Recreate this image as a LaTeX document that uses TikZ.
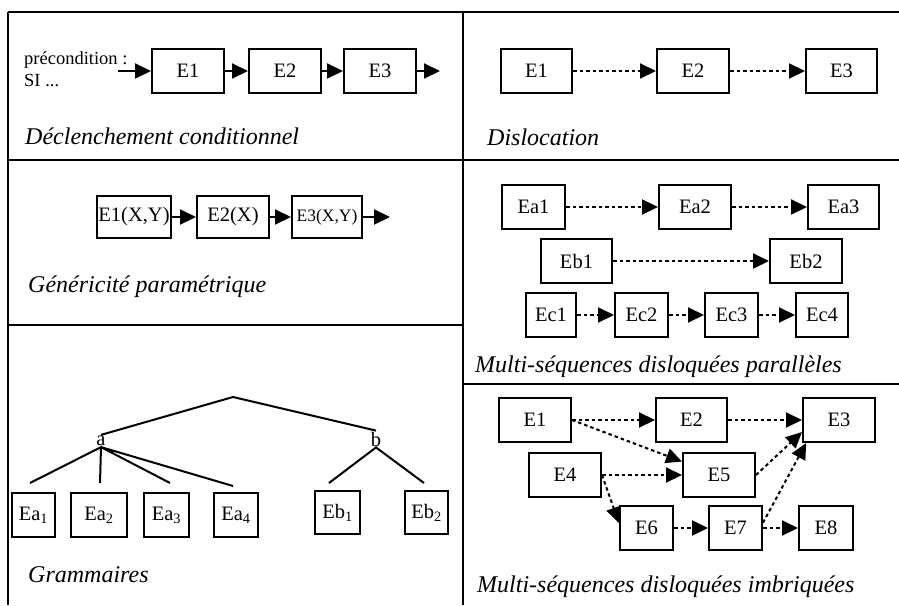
\documentclass[tikz,border=0pt]{standalone}
\usepackage{fontspec}
\setmainfont{Liberation Serif}
\usetikzlibrary{arrows.meta}
\tikzset{
  frame/.style={line width=2pt},
  box/.style={draw, line width=2pt, inner sep=0pt, minimum height=44pt, font=\fontsize{20.5}{22}\selectfont},
  caption/.style={anchor=base west, inner sep=0pt, font=\fontsize{24}{26}\selectfont\itshape},
  solidarr/.style={line width=2pt, -{Triangle[length=16pt,width=15pt]}},
  dotarr/.style={line width=2pt, dash pattern=on 3.5pt off 3pt, -{Triangle[length=16pt,width=15pt]}},
  treeline/.style={line width=2pt},
  letter/.style={inner sep=1pt, font=\fontsize{20.5}{22}\selectfont}
}
\begin{document}
\begin{tikzpicture}[x=1pt,y=-1pt]
\useasboundingbox (0,0) rectangle (899,605);
% frame
\draw[frame] (8,12) -- (899,12);
\draw[frame] (8,12) -- (8,605);
\draw[frame] (463,12) -- (463,605);
\draw[frame] (8,160) -- (899,160);
\draw[frame] (8,325) -- (463,325);
\draw[frame] (463,384) -- (899,384);

% Déclenchement conditionnel
\node[anchor=west, align=left, inner sep=0pt, font=\fontsize{18.5}{22}\selectfont] (pre) at (24,69) {précondition :\\SI ...};
\coordinate (prestart) at (118,71);
\node[box, minimum width=72pt] (a1) at (188,71) {E1};
\node[box, minimum width=72pt] (a2) at (285,71) {E2};
\node[box, minimum width=72pt] (a3) at (380,71) {E3};
\coordinate (aend) at (440,71);
\draw[solidarr] (prestart) -- (a1.west);
\draw[solidarr] (a1) -- (a2);
\draw[solidarr] (a2) -- (a3);
\draw[solidarr] (a3.east) -- (aend);
\node[caption] (capA) at (25,144) {Déclenchement conditionnel};

% Dislocation
\node[box, minimum width=71pt] (b1) at (536.5,71) {E1};
\node[box, minimum width=72pt] (b2) at (693,71) {E2};
\node[box, minimum width=71pt] (b3) at (841.5,71) {E3};
\draw[dotarr] (b1) -- (b2);
\draw[dotarr] (b2) -- (b3);
\node[caption] (capB) at (487,145) {Dislocation};

% Généricité paramétrique
\node[box, minimum width=74pt, minimum height=42pt] (c1) at (134,217) {E1(X,Y)};
\node[box, minimum width=72pt, minimum height=42pt] (c2) at (233,217) {E2(X)};
\node[box, minimum width=70pt, minimum height=42pt, font=\fontsize{17.5}{20}\selectfont] (c3) at (327,217) {E3(X,Y)};
\coordinate (cend) at (390,217);
\draw[solidarr] (c1) -- (c2);
\draw[solidarr] (c2) -- (c3);
\draw[solidarr] (c3.east) -- (cend);
\node[caption] (capC) at (28,292) {Généricité paramétrique};

% Grammaires
\coordinate (apex) at (233,397);
\node[letter] (ga) at (101,441) {a};
\node[letter] (gb) at (376,439) {b};
\coordinate (l1) at (30,483);
\coordinate (l2) at (100,483);
\coordinate (l3) at (170,483);
\coordinate (l4) at (233,486);
\coordinate (l5) at (329,483);
\coordinate (l6) at (424,483);
\draw[treeline] (ga.north) -- (apex) -- (gb.north);
\draw[treeline] (l1) -- (ga.south) -- (l2);
\draw[treeline] (l3) -- (ga.south) -- (l4);
\draw[treeline] (l5) -- (gb.south) -- (l6);
\node[box, minimum width=43pt] (d1) at (33.5,515) {Ea\textsubscript{1}};
\node[box, minimum width=56pt] (d2) at (99,515) {Ea\textsubscript{2}};
\node[box, minimum width=45pt] (d3) at (166.5,515) {Ea\textsubscript{3}};
\node[box, minimum width=44pt] (d4) at (236,515) {Ea\textsubscript{4}};
\node[box, minimum width=45pt, minimum height=43pt] (d5) at (337.5,512.5) {Eb\textsubscript{1}};
\node[box, minimum width=43pt, minimum height=43pt] (d6) at (426.5,512.5) {Eb\textsubscript{2}};
\node[caption] (capD) at (28,582) {Grammaires};

% Multi-séquences disloquées parallèles
\node[box, minimum width=63pt] (e1) at (533.5,207) {Ea1};
\node[box, minimum width=72pt] (e2) at (695,207) {Ea2};
\node[box, minimum width=71pt] (e3) at (843.5,207) {Ea3};
\node[box, minimum width=71pt] (f1) at (576.5,261) {Eb1};
\node[box, minimum width=72pt] (f2) at (806,261) {Eb2};
\node[box, minimum width=50pt] (g1) at (551,315) {Ec1};
\node[box, minimum width=53pt] (g2) at (641.5,315) {Ec2};
\node[box, minimum width=53pt] (g3) at (731.5,315) {Ec3};
\node[box, minimum width=52pt] (g4) at (822,315) {Ec4};
\draw[dotarr] (e1) -- (e2);
\draw[dotarr] (e2) -- (e3);
\draw[dotarr] (f1) -- (f2);
\draw[dotarr] (g1) -- (g2);
\draw[dotarr] (g2) -- (g3);
\draw[dotarr] (g3) -- (g4);
\node[caption] (capE) at (475,372) {Multi-séquences disloquées parallèles};

% Multi-séquences disloquées imbriquées
\node[box, minimum width=72pt] (h1) at (535,420) {E1};
\node[box, minimum width=71pt] (h2) at (691.5,420) {E2};
\node[box, minimum width=72pt] (h3) at (839,420) {E3};
\node[box, minimum width=72pt] (h4) at (565,475) {E4};
\node[box, minimum width=72pt] (h5) at (719,475) {E5};
\node[box, minimum width=53pt] (h6) at (646.5,528) {E6};
\node[box, minimum width=53pt] (h7) at (735.5,528) {E7};
\node[box, minimum width=54pt] (h8) at (826,528) {E8};
\draw[dotarr] (h1.east) -- (h2.west);
\draw[dotarr] (h1.east) -- (h5.160);
\draw[dotarr] (h2.east) -- (h3.west);
\draw[dotarr] (h4.east) -- (h5.west);
\draw[dotarr] (h4.east) -- (h6.170);
\draw[dotarr] (h5.east) -- (h3.198);
\draw[dotarr] (h7.11) -- (h3.215);
\draw[dotarr] (h6.east) -- (h7.west);
\draw[dotarr] (h7.east) -- (h8.west);
\node[caption] (capF) at (477,592) {Multi-séquences disloquées imbriquées};
\end{tikzpicture}
\end{document}
